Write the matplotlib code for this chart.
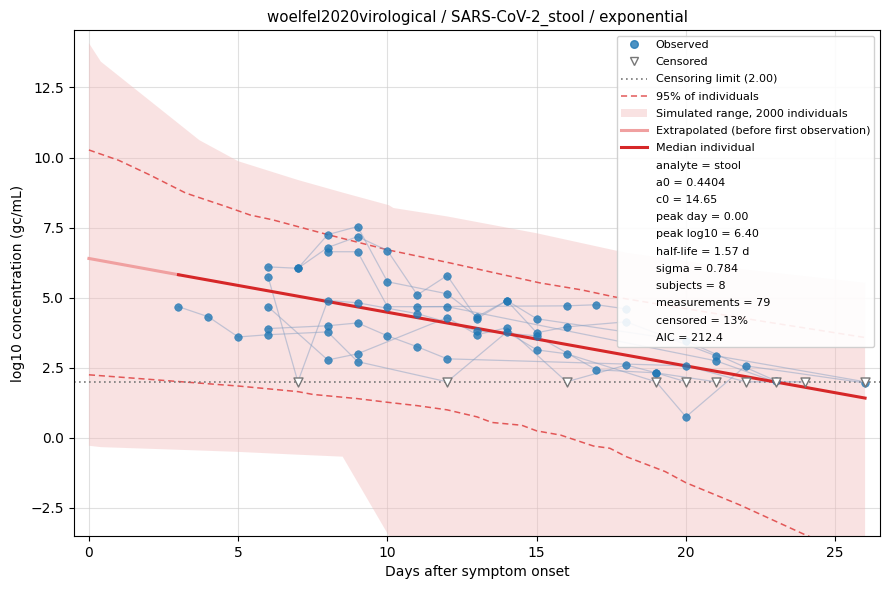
import matplotlib
matplotlib.use("Agg")
import matplotlib.pyplot as plt
from matplotlib.lines import Line2D
from matplotlib.patches import Patch

# ---------------- data ----------------
lod = 2.00

band_days = [0, 0.4, 3.7, 5, 7, 8.5, 10.05, 10.2, 12, 15, 18, 22, 26]
band_upper = [14.08, 13.42, 10.62, 9.87, 9.2, 8.75, 8.3, 8.2, 7.9, 7.3, 6.6, 6.0, 5.53]
band_lower = [-0.28, -0.33, -0.45, -0.5, -0.6, -0.67, -3.5, -3.8, -5.5, -7.0, -8.0, -9.0, -10.0]

p95_days = [0, 1, 2, 3.25, 4.6, 5.4, 6.15, 8, 10, 12.1, 15.1, 16.5, 17.6, 22.5, 26]
p95_upper = [10.27, 9.9, 9.4, 8.73, 8.25, 7.95, 7.78, 7.25, 6.71, 6.24, 5.53, 5.28, 5.03, 4.17, 3.58]

p05_days = [0, 5, 7, 7.5, 9, 10, 11, 12, 13, 13.5, 14.5, 15, 15.8, 16.9, 17.45, 18, 19.3, 20, 21.8, 24, 26]
p05_lower = [2.25, 1.85, 1.65, 1.55, 1.4, 1.27, 1.15, 1.0, 0.75, 0.55, 0.45, 0.25, 0.1, -0.29, -0.37, -0.67, -1.2, -1.6, -2.39, -3.46, -4.3]

extrap_days = [0, 3]
extrap_vals = [6.40, 5.82]
median_days = [3, 26]
median_vals = [5.82, 1.42]

subj_A_days = [3, 4, 5, 6, 8, 9, 12, 14, 15, 16, 19, 20, 22, 26]
subj_A_vals = [4.68, 4.32, 3.6, 3.68, 3.78, 2.72, 2.0, 3.78, 3.14, 3.0, 2.0, 0.75, 2.57, 1.96]
subj_A_cens = [0, 0, 0, 0, 0, 0, 1, 0, 0, 0, 1, 0, 0, 0]

subj_B_days = [6, 7, 8, 9, 10, 12, 13, 14, 15, 20, 23]
subj_B_vals = [6.1, 6.05, 7.25, 7.54, 5.57, 5.14, 4.32, 4.9, 4.25, 3.46, 2.04]
subj_B_cens = [0, 0, 0, 0, 0, 0, 0, 0, 0, 0, 0]

subj_C_days = [7, 8, 9, 10, 11, 12, 13, 14, 15, 16, 18, 21, 26]
subj_C_vals = [6.05, 6.79, 7.18, 6.68, 5.1, 5.79, 4.25, 4.9, 3.75, 3.96, 4.14, 2.93, 2.0]
subj_C_cens = [0, 0, 0, 0, 0, 0, 0, 0, 0, 0, 0, 0, 1]

subj_D_days = [6, 7, 8, 9, 11, 13, 15, 17, 19, 21]
subj_D_vals = [5.75, 2.0, 4.9, 4.82, 4.43, 3.82, 3.64, 2.43, 2.32, 2.0]
subj_D_cens = [0, 1, 0, 0, 0, 0, 0, 0, 0, 1]

subj_E_days = [6, 8, 9, 12, 13, 14, 16, 18, 19, 20]
subj_E_vals = [4.68, 2.78, 3.0, 4.29, 3.68, 3.93, 2.0, 2.6, 2.32, 2.0]
subj_E_cens = [0, 0, 0, 0, 0, 0, 1, 0, 0, 1]

subj_F_days = [6, 8, 9, 10, 11, 12, 20, 22, 24]
subj_F_vals = [3.9, 4.0, 4.1, 3.64, 3.25, 2.82, 2.57, 2.0, 2.0]
subj_F_cens = [0, 0, 0, 0, 0, 0, 0, 1, 1]

subj_G_days = [8, 9, 10, 12, 21, 23]
subj_G_vals = [6.64, 6.64, 4.68, 4.68, 2.75, 2.0]
subj_G_cens = [0, 0, 0, 0, 0, 1]

subj_H_days = [11, 16, 17, 18]
subj_H_vals = [4.68, 4.71, 4.75, 4.6]
subj_H_cens = [0, 0, 0, 0]

info_lines = [
    "analyte = stool",
    "a0 = 0.4404",
    "c0 = 14.65",
    "peak day = 0.00",
    "peak log10 = 6.40",
    "half-life = 1.57 d",
    "sigma = 0.784",
    "subjects = 8",
    "measurements = 79",
    "censored = 13%",
    "AIC = 212.4",
]

subjects = [
    (subj_A_days, subj_A_vals, subj_A_cens),
    (subj_B_days, subj_B_vals, subj_B_cens),
    (subj_C_days, subj_C_vals, subj_C_cens),
    (subj_D_days, subj_D_vals, subj_D_cens),
    (subj_E_days, subj_E_vals, subj_E_cens),
    (subj_F_days, subj_F_vals, subj_F_cens),
    (subj_G_days, subj_G_vals, subj_G_cens),
    (subj_H_days, subj_H_vals, subj_H_cens),
]

# ---------------- plot ----------------
fig = plt.figure(figsize=(8.9, 5.9), dpi=100)
ax = fig.add_axes([74 / 890, 1 - 536 / 590, (880 - 74) / 890, (536 - 30) / 590])

ax.grid(True, color="#cccccc", alpha=0.6, linewidth=0.8)
ax.set_axisbelow(True)

band_color = "#f2b8b8"
ax.fill_between(band_days, band_lower, band_upper, color=band_color, alpha=0.4,
                linewidth=0, zorder=1)
ax.plot(p95_days, p95_upper, color="#e04848", linestyle=(0, (4, 2.5)), linewidth=1.1,
        alpha=0.9, zorder=2)
ax.plot(p05_days, p05_lower, color="#e04848", linestyle=(0, (4, 2.5)), linewidth=1.1,
        alpha=0.9, zorder=2)
ax.axhline(lod, color="#777777", linestyle=(0, (1, 2)), linewidth=1.2, zorder=2)

obs_x, obs_y, cen_x, cen_y = [], [], [], []
for d, v, c in subjects:
    ax.plot(d, v, color="#8aa2c4", alpha=0.5, linewidth=0.9, zorder=2.2)
    for xi, yi, ci in zip(d, v, c):
        if ci:
            cen_x.append(xi); cen_y.append(yi)
        else:
            obs_x.append(xi); obs_y.append(yi)

ax.plot(extrap_days, extrap_vals, color="#f0a0a0", linewidth=2.2, zorder=2.5)
ax.plot(median_days, median_vals, color="#d62728", linewidth=2.2, zorder=2.6)

ax.scatter(obs_x, obs_y, s=30, color="#1f77b4", alpha=0.8, linewidths=0.4,
           edgecolors="#1f77b4", zorder=3)
ax.scatter(cen_x, cen_y, s=42, marker="v", facecolors="white", edgecolors="#777777",
           linewidths=1.0, zorder=3.2)

ax.set_xlim(-0.5, 26.5)
ax.set_ylim(-3.5, 14.55)
ax.set_xticks([0, 5, 10, 15, 20, 25])
ax.set_yticks([-2.5, 0.0, 2.5, 5.0, 7.5, 10.0, 12.5])
ax.set_xlabel("Days after symptom onset", fontsize=10)
ax.set_ylabel("log10 concentration (gc/mL)", fontsize=10)
ax.set_title("woelfel2020virological / SARS-CoV-2_stool / exponential", fontsize=10.8)

handles = [
    Line2D([], [], linestyle="none", marker="o", markersize=5.5, color="#1f77b4", alpha=0.8),
    Line2D([], [], linestyle="none", marker="v", markersize=6, markerfacecolor="white",
           markeredgecolor="#777777"),
    Line2D([], [], color="#777777", linestyle=(0, (1, 2)), linewidth=1.2),
    Line2D([], [], color="#e04848", linestyle=(0, (4, 2.5)), linewidth=1.1, alpha=0.9),
    Patch(facecolor=band_color, alpha=0.4, linewidth=0),
    Line2D([], [], color="#f0a0a0", linewidth=2.2),
    Line2D([], [], color="#d62728", linewidth=2.2),
]
labels = [
    "Observed",
    "Censored",
    f"Censoring limit ({lod:.2f})",
    "95% of individuals",
    "Simulated range, 2000 individuals",
    "Extrapolated (before first observation)",
    "Median individual",
]
for t in info_lines:
    handles.append(Line2D([], [], linestyle="none"))
    labels.append(t)

ax.legend(handles, labels, loc="upper right", fontsize=8, framealpha=0.9,
          labelspacing=0.65, handlelength=2.3)

fig.savefig("out.png", dpi=100)
